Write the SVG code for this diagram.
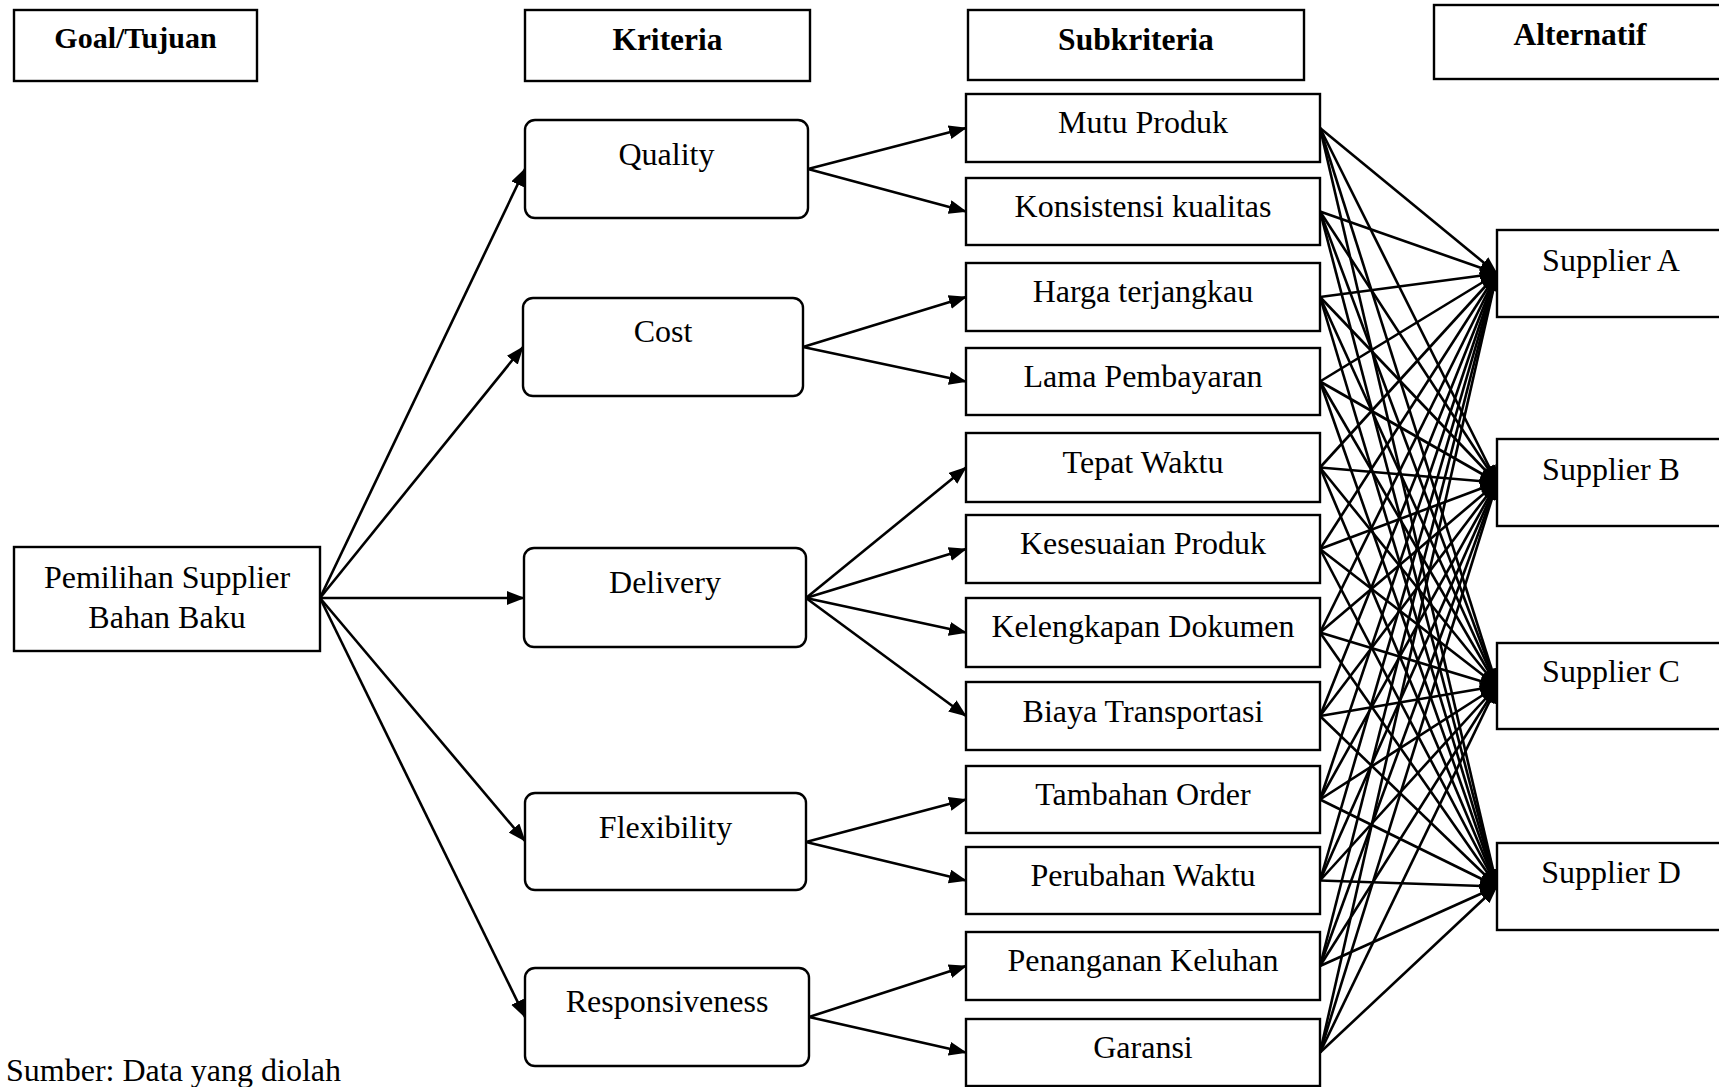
<svg xmlns="http://www.w3.org/2000/svg" width="1719" height="1087" viewBox="0 0 1719 1087">
<style>
.box{fill:#fff;stroke:#000;stroke-width:2.4}
.t{font-family:"Liberation Serif","Times New Roman",serif;font-size:32px;fill:#000;text-anchor:middle}
.h{font-family:"Liberation Serif","Times New Roman",serif;font-size:31.5px;font-weight:bold;fill:#000;text-anchor:middle}
.c line{stroke:#000;stroke-width:2.6;marker-end:url(#ah)}
</style>
<defs>
<marker id="ah" markerUnits="userSpaceOnUse" markerWidth="19" markerHeight="15" refX="17" refY="7" orient="auto">
<path d="M0,0 L18,7 L0,14 z" fill="#000"/>
</marker>
</defs>
<rect width="1719" height="1087" fill="#fff"/>

<g id="h-goal"><rect class="box" x="14" y="10" width="243" height="71"/><text class="h" x="135.5" y="48" style="font-size:30px">Goal/Tujuan</text></g>
<g id="h-kriteria"><rect class="box" x="525" y="10" width="285" height="71"/><text class="h" x="667.5" y="50">Kriteria</text></g>
<g id="h-sub"><rect class="box" x="968" y="10" width="336" height="70"/><text class="h" x="1136" y="50">Subkriteria</text></g>
<g id="h-alt"><rect class="box" x="1434" y="5" width="300" height="74"/><text class="h" x="1580" y="45">Alternatif</text></g>

<g class="c" id="connectors">
<line x1="320" y1="598" x2="525" y2="169"/>
<line x1="320" y1="598" x2="523" y2="347"/>
<line x1="320" y1="598" x2="524" y2="598"/>
<line x1="320" y1="598" x2="525" y2="841"/>
<line x1="320" y1="598" x2="525" y2="1017"/>
<line x1="808" y1="169" x2="966" y2="128"/>
<line x1="808" y1="169" x2="966" y2="211.5"/>
<line x1="803" y1="347" x2="966" y2="297"/>
<line x1="803" y1="347" x2="966" y2="381.5"/>
<line x1="806" y1="598" x2="966" y2="467.5"/>
<line x1="806" y1="598" x2="966" y2="549"/>
<line x1="806" y1="598" x2="966" y2="632.5"/>
<line x1="806" y1="598" x2="966" y2="716"/>
<line x1="806" y1="842" x2="966" y2="799.5"/>
<line x1="806" y1="842" x2="966" y2="880.5"/>
<line x1="809" y1="1017" x2="966" y2="966"/>
<line x1="809" y1="1017" x2="966" y2="1052.5"/>

<line x1="1320" y1="128" x2="1497" y2="273.5"/><line x1="1320" y1="128" x2="1497" y2="482.5"/><line x1="1320" y1="128" x2="1497" y2="686"/><line x1="1320" y1="128" x2="1497" y2="886.5"/>
<line x1="1320" y1="211.5" x2="1497" y2="273.5"/><line x1="1320" y1="211.5" x2="1497" y2="482.5"/><line x1="1320" y1="211.5" x2="1497" y2="686"/><line x1="1320" y1="211.5" x2="1497" y2="886.5"/>
<line x1="1320" y1="297" x2="1497" y2="273.5"/><line x1="1320" y1="297" x2="1497" y2="482.5"/><line x1="1320" y1="297" x2="1497" y2="686"/><line x1="1320" y1="297" x2="1497" y2="886.5"/>
<line x1="1320" y1="381.5" x2="1497" y2="273.5"/><line x1="1320" y1="381.5" x2="1497" y2="482.5"/><line x1="1320" y1="381.5" x2="1497" y2="686"/><line x1="1320" y1="381.5" x2="1497" y2="886.5"/>
<line x1="1320" y1="467.5" x2="1497" y2="273.5"/><line x1="1320" y1="467.5" x2="1497" y2="482.5"/><line x1="1320" y1="467.5" x2="1497" y2="686"/><line x1="1320" y1="467.5" x2="1497" y2="886.5"/>
<line x1="1320" y1="549" x2="1497" y2="273.5"/><line x1="1320" y1="549" x2="1497" y2="482.5"/><line x1="1320" y1="549" x2="1497" y2="686"/><line x1="1320" y1="549" x2="1497" y2="886.5"/>
<line x1="1320" y1="632.5" x2="1497" y2="273.5"/><line x1="1320" y1="632.5" x2="1497" y2="482.5"/><line x1="1320" y1="632.5" x2="1497" y2="686"/><line x1="1320" y1="632.5" x2="1497" y2="886.5"/>
<line x1="1320" y1="716" x2="1497" y2="273.5"/><line x1="1320" y1="716" x2="1497" y2="482.5"/><line x1="1320" y1="716" x2="1497" y2="686"/><line x1="1320" y1="716" x2="1497" y2="886.5"/>
<line x1="1320" y1="799.5" x2="1497" y2="273.5"/><line x1="1320" y1="799.5" x2="1497" y2="482.5"/><line x1="1320" y1="799.5" x2="1497" y2="686"/><line x1="1320" y1="799.5" x2="1497" y2="886.5"/>
<line x1="1320" y1="880.5" x2="1497" y2="273.5"/><line x1="1320" y1="880.5" x2="1497" y2="482.5"/><line x1="1320" y1="880.5" x2="1497" y2="686"/><line x1="1320" y1="880.5" x2="1497" y2="886.5"/>
<line x1="1320" y1="966" x2="1497" y2="273.5"/><line x1="1320" y1="966" x2="1497" y2="482.5"/><line x1="1320" y1="966" x2="1497" y2="686"/><line x1="1320" y1="966" x2="1497" y2="886.5"/>
<line x1="1320" y1="1052.5" x2="1497" y2="273.5"/><line x1="1320" y1="1052.5" x2="1497" y2="482.5"/><line x1="1320" y1="1052.5" x2="1497" y2="686"/><line x1="1320" y1="1052.5" x2="1497" y2="886.5"/>
</g>

<g id="goal"><rect class="box" x="14" y="547" width="306" height="104"/><text class="t" x="167" y="588">Pemilihan Supplier</text><text class="t" x="167" y="628">Bahan Baku</text></g>

<g id="k-quality"><rect class="box" x="525" y="120" width="283" height="98" rx="10"/><text class="t" x="666.5" y="165">Quality</text></g>
<g id="k-cost"><rect class="box" x="523" y="298" width="280" height="98" rx="10"/><text class="t" x="663" y="342">Cost</text></g>
<g id="k-delivery"><rect class="box" x="524" y="548" width="282" height="99" rx="10"/><text class="t" x="665" y="593">Delivery</text></g>
<g id="k-flex"><rect class="box" x="525" y="793" width="281" height="97" rx="10"/><text class="t" x="665.5" y="838">Flexibility</text></g>
<g id="k-resp"><rect class="box" x="525" y="968" width="284" height="98" rx="10"/><text class="t" x="667" y="1012">Responsiveness</text></g>

<g id="s1"><rect class="box" x="966" y="94" width="354" height="68"/><text class="t" x="1143" y="133">Mutu Produk</text></g>
<g id="s2"><rect class="box" x="966" y="178" width="354" height="67"/><text class="t" x="1143" y="217">Konsistensi kualitas</text></g>
<g id="s3"><rect class="box" x="966" y="263" width="354" height="68"/><text class="t" x="1143" y="302">Harga terjangkau</text></g>
<g id="s4"><rect class="box" x="966" y="348" width="354" height="67"/><text class="t" x="1143" y="387">Lama Pembayaran</text></g>
<g id="s5"><rect class="box" x="966" y="433" width="354" height="69"/><text class="t" x="1143" y="473">Tepat Waktu</text></g>
<g id="s6"><rect class="box" x="966" y="515" width="354" height="68"/><text class="t" x="1143" y="554">Kesesuaian Produk</text></g>
<g id="s7"><rect class="box" x="966" y="598" width="354" height="69"/><text class="t" x="1143" y="637">Kelengkapan Dokumen</text></g>
<g id="s8"><rect class="box" x="966" y="682" width="354" height="68"/><text class="t" x="1143" y="722">Biaya Transportasi</text></g>
<g id="s9"><rect class="box" x="966" y="766" width="354" height="67"/><text class="t" x="1143" y="805">Tambahan Order</text></g>
<g id="s10"><rect class="box" x="966" y="847" width="354" height="67"/><text class="t" x="1143" y="886">Perubahan Waktu</text></g>
<g id="s11"><rect class="box" x="966" y="932" width="354" height="68"/><text class="t" x="1143" y="971">Penanganan Keluhan</text></g>
<g id="s12"><rect class="box" x="966" y="1019" width="354" height="67"/><text class="t" x="1143" y="1058">Garansi</text></g>

<g id="a1"><rect class="box" x="1497" y="230" width="240" height="87"/><text class="t" x="1611" y="271">Supplier A</text></g>
<g id="a2"><rect class="box" x="1497" y="439" width="240" height="87"/><text class="t" x="1611" y="480">Supplier B</text></g>
<g id="a3"><rect class="box" x="1497" y="643" width="240" height="86"/><text class="t" x="1611" y="682">Supplier C</text></g>
<g id="a4"><rect class="box" x="1497" y="843" width="240" height="87"/><text class="t" x="1611" y="883">Supplier D</text></g>

<text class="t" x="6" y="1081" style="text-anchor:start">Sumber: Data yang diolah</text>
</svg>
